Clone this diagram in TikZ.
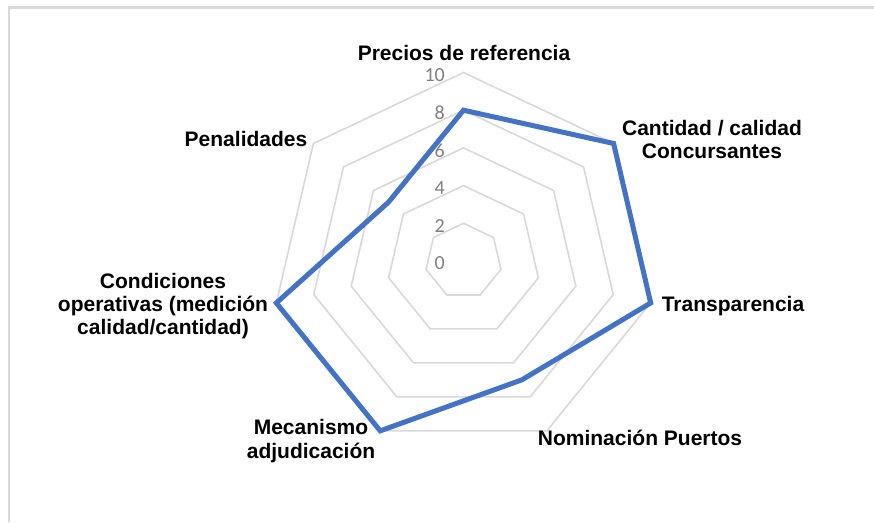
\documentclass[tikz,border=0pt]{standalone}
\usepackage{fontspec}
\setmainfont{Liberation Sans}
\newfontfamily\tickfont{Carlito}
\definecolor{gridgray}{HTML}{D9D9D9}
\definecolor{serieblue}{HTML}{4472C4}
\definecolor{tickgray}{HTML}{808080}
\definecolor{framegray}{HTML}{D9D9D9}
\begin{document}
\begin{tikzpicture}[x=1pt,y=-1pt,
  gridring/.style={draw=gridgray, line width=1.6pt},
  serie/.style={draw=serieblue, line width=5pt},
  catlabel/.style={font=\fontsize{21}{23.2}\selectfont\bfseries, align=center, inner sep=0pt},
  ticklabel/.style={font=\tickfont\fontsize{20}{20}\selectfont, text=tickgray, anchor=east, inner sep=0pt},
  frameline/.style={draw=framegray, line width=2.5pt}]
\useasboundingbox (0,0) rectangle (874,522);
\fill[white] (0,0) rectangle (874,522);
\coordinate (f1) at (9,522);
\coordinate (f2) at (9,7.5);
\coordinate (f3) at (874,7.5);
\draw[frameline] (f1) -- (f2) -- (f3);
\def\cx{463.5}
\def\cy{261}
\foreach \v in {2,4,6,8,10} {
  \foreach \k in {0,...,6} {
    \coordinate (r\v-\k) at ({\cx + \v*19.2*cos(90-\k*360/7)}, {\cy - \v*18.85*sin(90-\k*360/7)});
  }
  \draw[gridring] (r\v-0) -- (r\v-1) -- (r\v-2) -- (r\v-3) -- (r\v-4) -- (r\v-5) -- (r\v-6) -- cycle;
}
\foreach \v in {0,2,4,6,8,10} {
  \node[ticklabel] (t\v) at (445, {\cy - \v*18.85 + 2.5}) {\v};
}
\foreach \val [count=\k from 0] in {8,10,10,7,10,10,5} {
  \coordinate (d\k) at ({\cx + \val*19.2*cos(90-\k*360/7)}, {\cy - \val*18.85*sin(90-\k*360/7)});
}
\draw[serie] (d0) -- (d1) -- (d2) -- (d3) -- (d4) -- (d5) -- (d6) -- cycle;
\node[catlabel, anchor=base] (lp) at (464,60) {Precios de referencia};
\node[catlabel] (lc) at (712,139.5) {Cantidad / calidad\\Concursantes};
\node[catlabel, anchor=base] (lt) at (733,311.5) {Transparencia};
\node[catlabel, anchor=base] (ln) at (640,445) {Nominación Puertos};
\node[catlabel] (lm) at (311,441) {Mecanismo\\adjudicación};
\node[catlabel] (lo) at (163,306) {Condiciones\\operativas (medición\\calidad/cantidad)};
\node[catlabel, anchor=base] (lpe) at (246,146) {Penalidades};
\end{tikzpicture}
\end{document}
